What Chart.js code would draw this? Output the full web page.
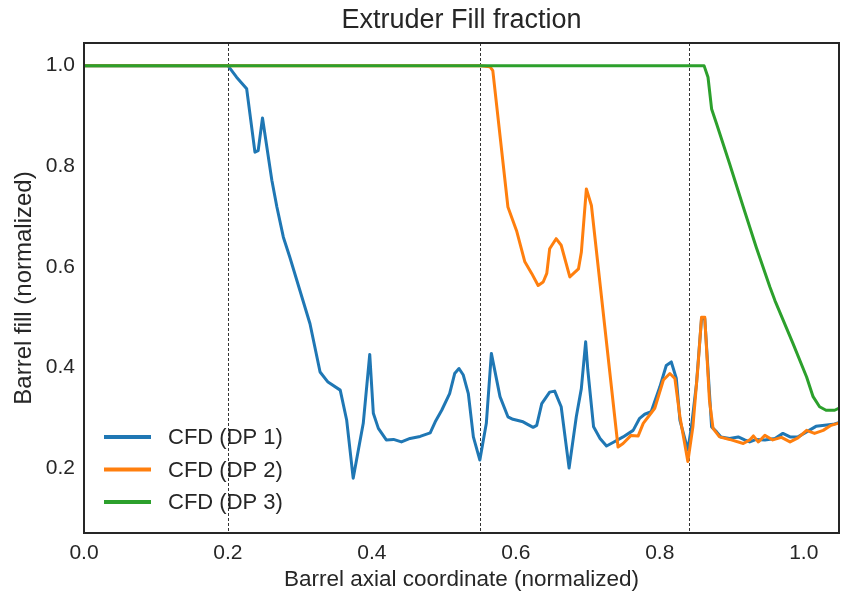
<!DOCTYPE html>
<html>
<head>
<meta charset="utf-8">
<script src="https://cdn.jsdelivr.net/npm/chart.js@4.4.0/dist/chart.umd.min.js"></script>
<style>
  html, body { margin: 0; padding: 0; background: #fff; }
  #wrap { width: 842px; height: 596px; }
</style>
</head>
<body>
<div id="wrap"><canvas id="fillChart" width="842" height="596"></canvas></div>
<script>
// series (x = barrel axial coordinate, y = barrel fill)
const dp1X = [0, 0.05, 0.1, 0.15, 0.2, 0.212, 0.226, 0.2375, 0.242, 0.248, 0.261, 0.268, 0.277, 0.286, 0.3, 0.314, 0.328, 0.339, 0.356, 0.365, 0.374, 0.388, 0.397, 0.402, 0.409, 0.42, 0.43, 0.441, 0.453, 0.467, 0.481, 0.488, 0.497, 0.508, 0.515, 0.521, 0.527, 0.534, 0.541, 0.55, 0.559, 0.566, 0.578, 0.589, 0.596, 0.61, 0.624, 0.629, 0.636, 0.647, 0.654, 0.663, 0.674, 0.684, 0.691, 0.697, 0.7, 0.708, 0.717, 0.726, 0.735, 0.749, 0.763, 0.772, 0.779, 0.788, 0.8, 0.809, 0.816, 0.823, 0.828, 0.839, 0.844, 0.851, 0.858, 0.8625, 0.872, 0.879, 0.885, 0.897, 0.909, 0.918, 0.925, 0.934, 0.946, 0.96, 0.971, 0.981, 0.992, 1.004, 1.017, 1.029, 1.041, 1.05];
const dp1Y = [1.0, 1.0, 1.0, 1.0, 1.0, 0.977, 0.954, 0.828, 0.831, 0.896, 0.772, 0.719, 0.659, 0.619, 0.553, 0.487, 0.391, 0.371, 0.355, 0.295, 0.18, 0.289, 0.426, 0.309, 0.279, 0.256, 0.257, 0.252, 0.259, 0.263, 0.27, 0.292, 0.315, 0.348, 0.388, 0.398, 0.385, 0.348, 0.262, 0.216, 0.289, 0.428, 0.342, 0.302, 0.297, 0.292, 0.281, 0.285, 0.328, 0.351, 0.353, 0.322, 0.2, 0.302, 0.358, 0.451, 0.395, 0.282, 0.259, 0.244, 0.251, 0.262, 0.275, 0.299, 0.307, 0.312, 0.361, 0.404, 0.411, 0.378, 0.295, 0.236, 0.282, 0.368, 0.497, 0.497, 0.282, 0.272, 0.262, 0.259, 0.262, 0.256, 0.252, 0.257, 0.256, 0.259, 0.269, 0.262, 0.262, 0.272, 0.283, 0.285, 0.287, 0.291];

const dp2X = [0, 0.1, 0.2, 0.3, 0.4, 0.5, 0.55, 0.564, 0.568, 0.589, 0.601, 0.6125, 0.622, 0.631, 0.638, 0.643, 0.647, 0.656, 0.663, 0.675, 0.687, 0.691, 0.698, 0.705, 0.742, 0.749, 0.76, 0.77, 0.777, 0.784, 0.793, 0.805, 0.814, 0.821, 0.828, 0.839, 0.846, 0.853, 0.858, 0.8625, 0.869, 0.874, 0.883, 0.897, 0.916, 0.925, 0.93, 0.937, 0.946, 0.957, 0.969, 0.981, 0.992, 1.004, 1.015, 1.027, 1.038, 1.05];
const dp2Y = [1.0, 1.0, 1.0, 1.0, 1.0, 1.0, 1.0, 0.998, 0.99, 0.719, 0.672, 0.61, 0.587, 0.563, 0.57, 0.587, 0.636, 0.656, 0.643, 0.58, 0.596, 0.629, 0.755, 0.722, 0.242, 0.249, 0.265, 0.264, 0.289, 0.302, 0.319, 0.375, 0.388, 0.378, 0.302, 0.213, 0.282, 0.401, 0.5, 0.5, 0.335, 0.279, 0.262, 0.257, 0.249, 0.256, 0.264, 0.252, 0.265, 0.256, 0.261, 0.252, 0.26, 0.275, 0.269, 0.275, 0.285, 0.29];

const dp3X = [0, 0.1, 0.2, 0.3, 0.4, 0.5, 0.6, 0.7, 0.8, 0.8615, 0.867, 0.872, 0.879, 0.897, 0.916, 0.934, 0.953, 0.96, 0.985, 1.004, 1.013, 1.022, 1.031, 1.043, 1.05];
const dp3Y = [1.0, 1.0, 1.0, 1.0, 1.0, 1.0, 1.0, 1.0, 1.0, 1.0, 0.977, 0.914, 0.884, 0.805, 0.719, 0.639, 0.56, 0.533, 0.448, 0.381, 0.342, 0.322, 0.315, 0.315, 0.32];

const seriesLabels = ['CFD (DP 1)', 'CFD (DP 2)', 'CFD (DP 3)'];
const seriesColors = ['#1f77b4', '#ff7f0e', '#2ca02c'];
const sectionX = [0.2, 0.55, 0.84];   // dashed separators

const FONT = "'Liberation Sans', Arial, Helvetica, sans-serif";
const INK = '#262626';

function pts(xs, ys) {
  return xs.map((x, i) => ({ x: x, y: ys[i] }));
}

// center the title over the plot box, like matplotlib does
const titleOverAxes = {
  id: 'titleOverAxes',
  afterLayout(chart) {
    if (chart.titleBlock) {
      chart.titleBlock.left = chart.chartArea.left;
      chart.titleBlock.right = chart.chartArea.right;
    }
  }
};

// dashed vertical separators
const sectionLines = {
  id: 'sectionLines',
  beforeDatasetsDraw(chart) {
    const { ctx, chartArea, scales } = chart;
    ctx.save();
    ctx.strokeStyle = '#333';
    ctx.lineWidth = 1;
    ctx.setLineDash([3, 2]);
    sectionX.forEach(v => {
      const px = Math.round(scales.x.getPixelForValue(v)) + 0.5;
      ctx.beginPath();
      ctx.moveTo(px, chartArea.top);
      ctx.lineTo(px, chartArea.bottom);
      ctx.stroke();
    });
    ctx.restore();
  }
};

// legend in the lower-left corner, no frame + axes box
const cornerLegend = {
  id: 'cornerLegend',
  afterDraw(chart) {
    const { ctx, chartArea } = chart;
    ctx.save();
    chart.data.datasets.forEach((ds, i) => {
      const y = chartArea.bottom - 96 + i * 32.5;
      ctx.strokeStyle = ds.borderColor;
      ctx.lineWidth = 4;
      ctx.beginPath();
      ctx.moveTo(chartArea.left + 20, y);
      ctx.lineTo(chartArea.left + 67, y);
      ctx.stroke();
      ctx.fillStyle = INK;
      ctx.font = '22px ' + FONT;
      ctx.textBaseline = 'middle';
      ctx.fillText(ds.label, chartArea.left + 84, y + 1);
    });
    ctx.strokeStyle = INK;
    ctx.lineWidth = 2;
    ctx.strokeRect(chartArea.left, chartArea.top, chartArea.right - chartArea.left, chartArea.bottom - chartArea.top);
    ctx.restore();
  }
};

const datasets = [pts(dp1X, dp1Y), pts(dp2X, dp2Y), pts(dp3X, dp3Y)].map((d, i) => ({
  label: seriesLabels[i],
  data: d,
  borderColor: seriesColors[i],
  backgroundColor: seriesColors[i],
  borderWidth: 3,
  borderJoinStyle: 'round',
  pointRadius: 0,
  tension: 0,
  fill: false,
  order: 3 - i
}));

const ctx = document.getElementById('fillChart').getContext('2d');
new Chart(ctx, {
  type: 'line',
  data: { datasets },
  plugins: [titleOverAxes, sectionLines, cornerLegend],
  options: {
    responsive: false,
    animation: false,
    layout: { padding: { left: 0, right: 3, top: 0, bottom: 0 } },
    plugins: {
      legend: { display: false },
      tooltip: { enabled: false },
      title: {
        display: true,
        text: 'Extruder Fill fraction',
        color: INK,
        font: { family: FONT, size: 27, weight: 'normal' },
        padding: { top: 4, bottom: 6.6 }
      }
    },
    scales: {
      x: {
        type: 'linear',
        min: 0,
        max: 1.049,
        grid: { display: false, drawTicks: false },
        border: { display: false },
        ticks: {
          stepSize: 0.2,
          includeBounds: false,
          padding: 8,
          color: INK,
          font: { family: FONT, size: 21 },
          callback: v => v.toFixed(1)
        },
        title: {
          display: true,
          text: 'Barrel axial coordinate (normalized)',
          color: INK,
          font: { family: FONT, size: 22.5 },
          padding: { top: 0, bottom: 3 }
        },
        afterFit(scale) { scale.height = 63; }
      },
      y: {
        type: 'linear',
        min: 0.071,
        max: 1.045,
        grid: { display: false, drawTicks: false },
        border: { display: false },
        ticks: {
          stepSize: 0.2,
          includeBounds: false,
          padding: 9,
          color: INK,
          font: { family: FONT, size: 21 },
          callback: v => v.toFixed(1)
        },
        title: {
          display: true,
          text: 'Barrel fill (normalized)',
          color: INK,
          font: { family: FONT, size: 24 },
          padding: { top: 10, bottom: 0 }
        },
        afterFit(scale) { scale.width = 84; }
      }
    }
  }
});
</script>
</body>
</html>
